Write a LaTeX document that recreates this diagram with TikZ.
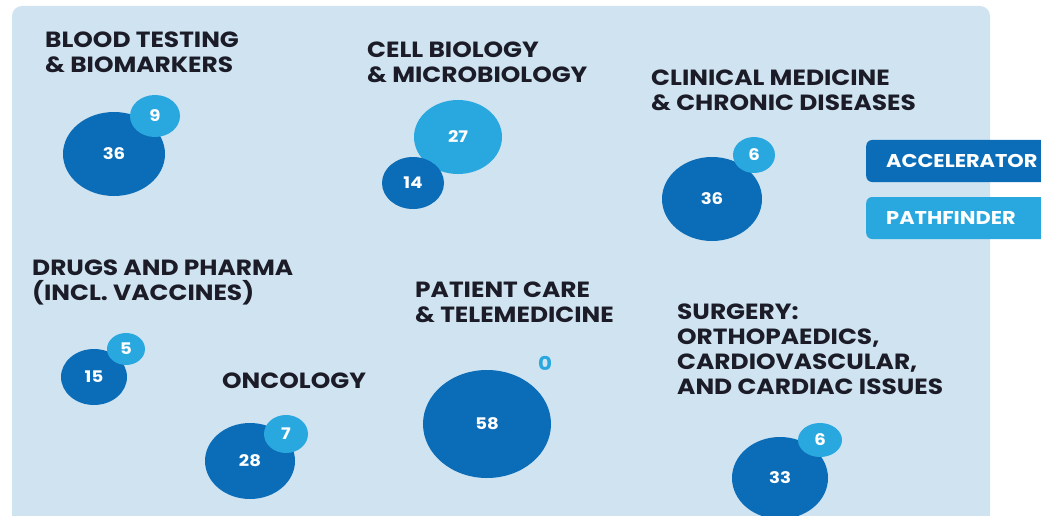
\documentclass[tikz,border=0pt]{standalone}
\usepackage{fontspec}
\setmainfont{Poppins}[FakeStretch=1.13]
\usepackage{tikz}
\usetikzlibrary{shapes.geometric}
\usetikzlibrary{positioning}

\definecolor{accblue}{HTML}{0B6DB7}
\definecolor{pathblue}{HTML}{29A8E0}
\definecolor{panelblue}{HTML}{CFE3F1}
\definecolor{headtext}{HTML}{1C1C28}

\tikzset{
  acc/.style={ellipse, fill=accblue, text=white, inner sep=0pt,
    font=\bfseries\fontsize{16}{16}\selectfont},
  pth/.style={ellipse, fill=pathblue, text=white, inner sep=0pt,
    font=\bfseries\fontsize{16}{16}\selectfont},
  area/.style={anchor=north west, align=left, inner sep=0pt, text=headtext,
    font=\bfseries\fontsize{22}{25}\selectfont},
  legendbox/.style={anchor=west, rounded corners=6pt, text=white,
    minimum height=42pt, inner xsep=20pt, text width=180pt,
    font=\bfseries\fontsize{18.5}{18.5}\selectfont}
}

\begin{document}
\begin{tikzpicture}[x=1pt,y=-1pt]
          \useasboundingbox (0,0) rectangle (1041,516);
          \fill[panelblue, rounded corners=10pt] (12,6) rectangle (990,540);

          % blood testing
          \node (blood) [area] at (45,32) {BLOOD TESTING\\\& BIOMARKERS};
          \node (blood-a) [acc, minimum width=102pt, minimum height=84pt] at (114,154) {36};
          \node (blood-p) [pth, minimum width=50pt, minimum height=42pt] at (155,116) {9};

          % cell biology
          \node (cell) [area] at (367,42) {CELL BIOLOGY\\\& MICROBIOLOGY};
          \node (cell-p) [pth, minimum width=88pt, minimum height=74pt] at (458,137) {27};
          \node (cell-a) [acc, minimum width=62pt, minimum height=52pt] at (413,183) {14};

          % clinical medicine
          \node (clin) [area] at (651,70) {CLINICAL MEDICINE\\\& CHRONIC DISEASES};
          \node (clin-a) [acc, minimum width=100pt, minimum height=84pt] at (712,199) {36};
          \node (clin-p) [pth, minimum width=42pt, minimum height=36pt] at (754,155) {6};

          % drugs and pharma
          \node (drug) [area] at (32,260) {DRUGS AND PHARMA\\(INCL. VACCINES)};
          \node (drug-a) [acc, minimum width=66pt, minimum height=56pt] at (94,377) {15};
          \node (drug-p) [pth, minimum width=38pt, minimum height=32pt] at (126,349) {5};

          % oncology
          \node (onco) [area] at (222,373) {ONCOLOGY};
          \node (onco-a) [acc, minimum width=90pt, minimum height=76pt] at (250,461) {28};
          \node (onco-p) [pth, minimum width=44pt, minimum height=38pt] at (286,434) {7};

          % patient care
          \node (care) [area] at (415,282) {PATIENT CARE\\\& TELEMEDICINE};
          \node (care-a) [acc, minimum width=128pt, minimum height=108pt] at (487,424) {58};
          \node (care-p) [text=pathblue, inner sep=0pt, font=\bfseries\fontsize{19}{19}\selectfont] at (545,363) {0};

          % surgery
          \node (surg) [area] at (677,304) {SURGERY:\\ORTHOPAEDICS,\\CARDIOVASCULAR,\\AND CARDIAC ISSUES};
          \node (surg-a) [acc, minimum width=96pt, minimum height=82pt] at (780,478) {33};
          \node (surg-p) [pth, minimum width=44pt, minimum height=34pt] at (820,440) {6};

          % legend
          \node (leg-a) [legendbox, fill=accblue] at (866,161) {ACCELERATOR};
          \node (leg-p) [legendbox, fill=pathblue] at (866,218) {PATHFINDER};

        \end{tikzpicture}
\end{document}
